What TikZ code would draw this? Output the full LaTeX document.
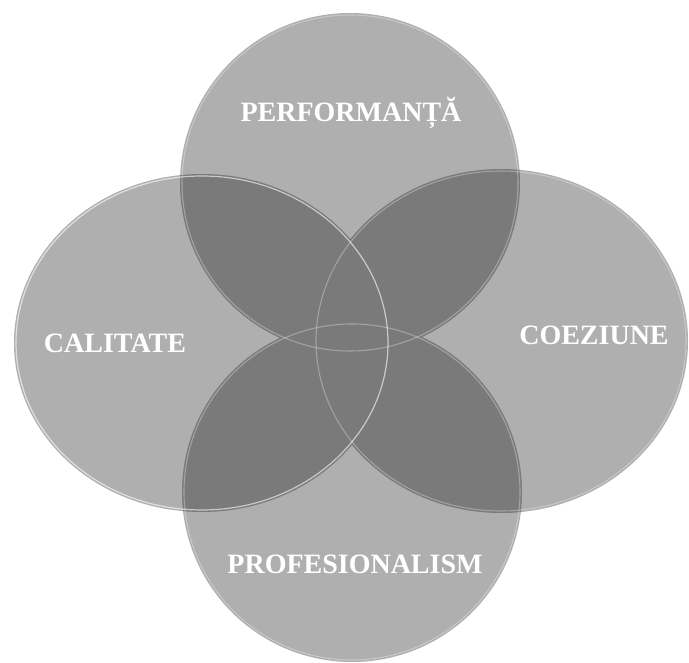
\documentclass[tikz,border=0pt]{standalone}
\usepackage{fontspec}
\setmainfont{Liberation Serif}
\definecolor{lightfill}{HTML}{AFAFAF}
\definecolor{darkfill}{HTML}{7A7A7A}
\tikzset{
  disc/.style={fill=lightfill},
  lensfill/.style={fill=darkfill},
  rim/.style={draw=white, line width=1.1pt, draw opacity=0.3},
  strongrim/.style={draw=white, line width=1.2pt, draw opacity=0.6},
  lbl/.style={text=white, font=\bfseries\fontsize{28}{30}\selectfont, anchor=base, inner sep=0pt},
}
\begin{document}
\begin{tikzpicture}[x=1pt,y=-1pt]
\useasboundingbox (0,0) rectangle (689,663);
\coordinate (T) at (350,183);
\coordinate (B) at (352,492);
\coordinate (L) at (202,343);
\coordinate (R) at (501,341);
% discs
\fill[disc] (T) circle[radius=170pt];
\fill[disc] (B) circle[radius=170pt];
\fill[disc] (L) ellipse[x radius=188pt, y radius=169pt];
\fill[disc] (R) ellipse[x radius=187pt, y radius=172pt];
% overlaps
\begin{scope}
  \clip (T) circle[radius=170pt];
  \fill[lensfill] (L) ellipse[x radius=188pt, y radius=169pt];
  \fill[lensfill] (R) ellipse[x radius=187pt, y radius=172pt];
  \fill[lensfill] (B) circle[radius=170pt];
\end{scope}
\begin{scope}
  \clip (B) circle[radius=170pt];
  \fill[lensfill] (L) ellipse[x radius=188pt, y radius=169pt];
  \fill[lensfill] (R) ellipse[x radius=187pt, y radius=172pt];
\end{scope}
\begin{scope}
  \clip (L) ellipse[x radius=188pt, y radius=169pt];
  \fill[lensfill] (R) ellipse[x radius=187pt, y radius=172pt];
\end{scope}
% light rims
\draw[rim] (T) circle[radius=168pt];
\draw[rim] (B) circle[radius=168pt];
\draw[rim] (R) ellipse[x radius=185pt, y radius=170pt];
\draw[strongrim] (L) ellipse[x radius=186pt, y radius=167pt];
% labels
\node[lbl] (perf) at (351,122) {PERFORMANȚĂ};
\node[lbl] (cal) at (115,353) {CALITATE};
\node[lbl] (coez) at (594,345) {COEZIUNE};
\node[lbl] (prof) at (355,573) {PROFESIONALISM};
\end{tikzpicture}
\end{document}
